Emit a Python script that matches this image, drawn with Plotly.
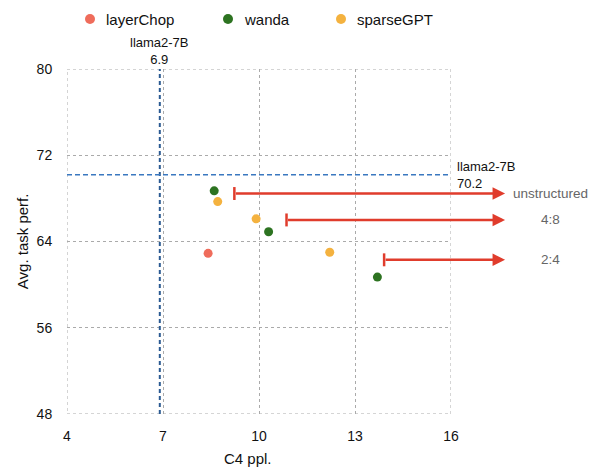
import plotly.graph_objects as go

# ---- data ----
layerchop_x = [8.41]
layerchop_y = [62.9]
wanda_x = [8.60, 10.30, 13.70]
wanda_y = [68.7, 64.9, 60.7]
sparsegpt_x = [8.71, 9.91, 12.21]
sparsegpt_y = [67.7, 66.1, 63.0]

base_ppl = 6.9
base_perf = 70.2
base_name = "llama2-7B"

arrow_labels = ["unstructured", "4:8", "2:4"]
arrow_start_x = [9.23, 10.86, 13.91]
arrow_y = [68.45, 66.0, 62.3]
arrow_end_x = 17.69
arrow_label_x = 19.12

x_ticks = [4, 7, 10, 13, 16]
y_ticks = [48, 56, 64, 72, 80]

series_names = ["layerChop", "wanda", "sparseGPT"]
series_colors = ["#ef6c5b", "#2d7321", "#f4b23f"]

FONT = "Liberation Sans, Arial, Helvetica, sans-serif"
RED = "#e03c2c"
GRID = "#aaaaaa"

X0, X1 = x_ticks[0], x_ticks[-1]
Y0, Y1 = y_ticks[0], y_ticks[-1]

# figure geometry (body margin removed by post_script)
FIG_W, FIG_H = 590, 468
plot_left, plot_w = 67, 384
plot_top, plot_h = 69, 345


def xpaper(v):
    return (v - X0) / (X1 - X0)


fig = go.Figure()
for name, xs, ys, col in zip(series_names,
                             [layerchop_x, wanda_x, sparsegpt_x],
                             [layerchop_y, wanda_y, sparsegpt_y],
                             series_colors):
    fig.add_trace(go.Scatter(x=xs, y=ys, mode="markers", name=name,
                             marker=dict(color=col, size=9), showlegend=False))

# dotted border (edge gridlines)
fig.add_shape(type="rect", xref="x", yref="y", x0=X0, x1=X1, y0=Y0, y1=Y1,
              line=dict(color=GRID, width=1, dash="dot"), layer="below")

# baseline lines
fig.add_shape(type="line", xref="x", yref="y", x0=base_ppl, x1=base_ppl, y0=Y0, y1=Y1,
              line=dict(color="#2b5a92", width=2, dash="4px,3px"), layer="above")
fig.add_shape(type="line", xref="x", yref="y", x0=X0, x1=X1, y0=base_perf, y1=base_perf,
              line=dict(color="#3a78c0", width=1.5, dash="5px,3px"), layer="above")

annotations = []
annotations.append(dict(x=base_ppl, y=Y1, xref="x", yref="y", text=f"{base_name}<br>{base_ppl}",
                        showarrow=False, xanchor="center", yanchor="middle", yshift=18,
                        font=dict(size=13, color="#111", family=FONT)))
annotations.append(dict(x=X1, y=base_perf, xref="x", yref="y", text=f"{base_name}<br>{base_perf}",
                        showarrow=False, xanchor="left", yanchor="middle", xshift=4, align="left",
                        font=dict(size=13, color="#111", family=FONT)))

for lab, sx, ay in zip(arrow_labels, arrow_start_x, arrow_y):
    annotations.append(dict(x=arrow_end_x, y=ay, ax=sx, ay=ay, xref="x", yref="y", axref="x", ayref="y",
                            text="", showarrow=True, arrowhead=2, arrowsize=1.0, arrowwidth=2.5,
                            arrowcolor=RED, standoff=0))
    fig.add_shape(type="line", xref="x", yref="y", x0=sx, x1=sx, y0=ay - 0.6, y1=ay + 0.6,
                  line=dict(color=RED, width=2.5))
    annotations.append(dict(x=xpaper(arrow_label_x), y=ay, xref="paper", yref="y", text=lab, showarrow=False,
                            xanchor="center", yanchor="middle",
                            font=dict(size=13.5, color="#666", family=FONT)))

# manual legend (top)
legend_px = [90, 228, 341]   # marker centres in figure pixels
leg_y = 1 + (plot_top - 19) / plot_h
for name, col, px in zip(series_names, series_colors, legend_px):
    xp = (px - plot_left) / plot_w
    fig.add_shape(type="circle", xref="paper", yref="paper", xsizemode="pixel", ysizemode="pixel",
                  xanchor=xp, yanchor=leg_y, x0=-5, x1=5, y0=-5, y1=5,
                  fillcolor=col, line=dict(width=0))
    annotations.append(dict(x=xp, y=leg_y, xref="paper", yref="paper", text=name, showarrow=False,
                            xanchor="left", yanchor="middle", xshift=14,
                            font=dict(size=15, color="#111", family=FONT)))

# axis titles
annotations.append(dict(x=(248 - plot_left) / plot_w, y=-(459 - (plot_top + plot_h)) / plot_h,
                        xref="paper", yref="paper", text="C4 ppl.", showarrow=False,
                        xanchor="center", yanchor="middle", font=dict(size=15, color="#111", family=FONT)))
annotations.append(dict(x=(22.7 - plot_left) / plot_w, y=0.5, xref="paper", yref="paper", text="Avg. task perf.",
                        showarrow=False, textangle=-90, xanchor="center", yanchor="middle",
                        font=dict(size=15, color="#111", family=FONT)))

fig.update_layout(
    width=FIG_W, height=FIG_H,
    margin=dict(l=plot_left, r=FIG_W - plot_left - plot_w, t=plot_top, b=FIG_H - plot_top - plot_h,
                autoexpand=False),
    paper_bgcolor="white", plot_bgcolor="white",
    font=dict(family=FONT, size=14, color="#111"),
    showlegend=False,
    annotations=annotations,
)
fig.update_xaxes(range=[X0, X1], tickvals=x_ticks, showgrid=True, gridcolor=GRID,
                 griddash="dot", gridwidth=1, zeroline=False, showline=False,
                 ticks="outside", ticklen=9, tickcolor="rgba(0,0,0,0)", tickfont=dict(size=14))
fig.update_yaxes(range=[Y0, Y1], tickvals=y_ticks, showgrid=True, gridcolor=GRID,
                 griddash="dot", gridwidth=1, zeroline=False, showline=False,
                 ticks="outside", ticklen=11, tickcolor="rgba(0,0,0,0)", tickfont=dict(size=14))

fig.write_html("out.html", config={"displayModeBar": False},
               post_script="document.body.style.margin='0';document.body.style.overflow='hidden';")
